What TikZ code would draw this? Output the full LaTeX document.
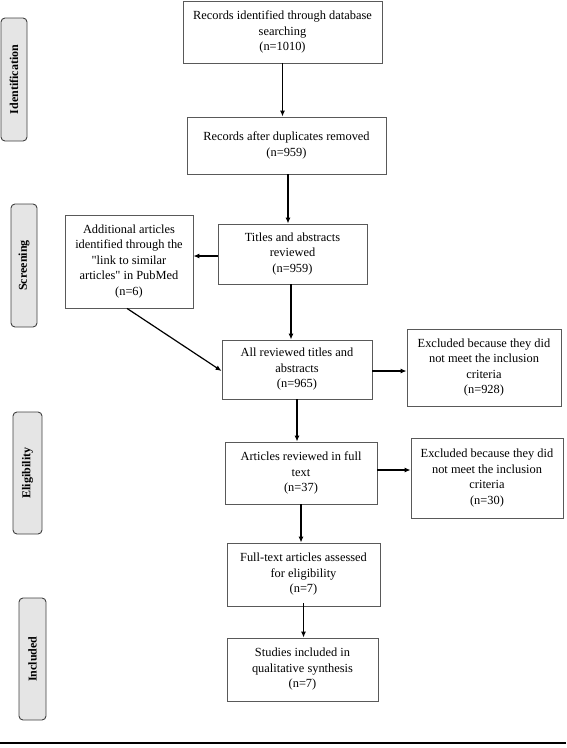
\documentclass[tikz,border=0pt]{standalone}
\usepackage{fontspec}
\setmainfont{Liberation Serif}[Ligatures=TeXOff]
\usetikzlibrary{arrows.meta}
\begin{document}
\begin{tikzpicture}[x=1pt,y=-1pt,
  box/.style={draw=black!65, line width=0.8pt, align=center, inner sep=2pt,
    font=\fontsize{12.4}{15.5}\selectfont},
  tab/.style={draw=black!75, line width=0.9pt, fill=black!10, rounded corners=4pt,
    inner sep=0pt},
  tablabel/.style={rotate=90, font=\fontsize{12}{14}\selectfont\bfseries},
  arr/.style={-{Latex[length=6pt,width=5pt]}, line width=1.2pt, black}]
\useasboundingbox (0,0) rectangle (566,748);
% stage tabs
\node[tab, minimum width=26pt, minimum height=123pt] (t1) at (14,79.5) {};
\node[tablabel] (l1) at (t1.center) {Identification};
\node[tab, minimum width=26pt, minimum height=123pt] (t2) at (24,265.5) {};
\node[tablabel] (l2) at (t2.center) {Screening};
\node[tab, minimum width=29pt, minimum height=122pt] (t3) at (27.5,473) {};
\node[tablabel] (l3) at (t3.center) {Eligibility};
\node[tab, minimum width=27pt, minimum height=122pt] (t4) at (32.5,659) {};
\node[tablabel] (l4) at (t4.center) {Included};
% boxes
\node[box, minimum width=199pt, minimum height=62pt] (b1) at (282.5,32)
  {Records identified through database\\searching\\(n=1010)};
\node[box, minimum width=199pt, minimum height=57pt] (b2) at (286.5,145.5)
  {Records after duplicates removed\\(n=959)};
\node[box, minimum width=149pt, minimum height=60pt] (b3) at (292.5,254)
  {Titles and abstracts\\reviewed\\(n=959)};
\node[box, minimum width=128pt, minimum height=93pt] (add) at (129,261.5)
  {Additional articles\\identified through the\\"link to similar\\articles" in PubMed\\(n=6)};
\node[box, minimum width=150pt, minimum height=59pt] (b4) at (297,369.5)
  {All reviewed titles and\\abstracts\\(n=965)};
\node[box, minimum width=154pt, minimum height=77pt] (ex1) at (484,367.5)
  {Excluded because they did\\not meet the inclusion\\criteria\\(n=928)};
\node[box, minimum width=152pt, minimum height=62pt] (b5) at (301,473)
  {Articles reviewed in full\\text\\(n=37)};
\node[box, minimum width=152pt, minimum height=80pt] (ex2) at (487,478)
  {Excluded because they did\\not meet the inclusion\\criteria\\(n=30)};
\node[box, minimum width=153pt, minimum height=63pt] (b6) at (303.5,574.5)
  {Full-text articles assessed\\for eligibility\\(n=7)};
\node[box, minimum width=151pt, minimum height=63pt] (b7) at (302.5,669.5)
  {Studies included in\\qualitative synthesis\\(n=7)};
% connectors
\draw[arr] (b1.south) -- (b1.south |- b2.north);
\draw[arr] ([xshift=1.5pt]b2.south) -- ([xshift=1.5pt]b2.south |- b3.north);
\draw[arr] ([yshift=-2pt]b3.west) -- ([yshift=-2pt]b3.west -| add.east);
\draw[arr] ([xshift=-1.5pt]b3.south) -- ([xshift=-1.5pt]b3.south |- b4.north);
\draw[arr] ([xshift=-2pt]add.south) -- ([yshift=-1.5pt]b4.west);
\draw[arr] ([yshift=-1.5pt]b4.east) -- ([yshift=-1.5pt]b4.east -| ex1.west);
\draw[arr] (b4.south) -- (b4.south |- b5.north);
\draw[arr] ([yshift=3pt]b5.east) -- ([yshift=3pt]b5.east -| ex2.west);
\draw[arr] (b5.south) -- (b5.south |- b6.north);
\draw[arr] ([yshift=3pt]b6.south) -- (b6.south |- b7.north);
% bottom rule
\coordinate (r1) at (0,743);
\coordinate (r2) at (566,743);
\draw[line width=2.5pt] (r1) -- (r2);
\end{tikzpicture}
\end{document}
